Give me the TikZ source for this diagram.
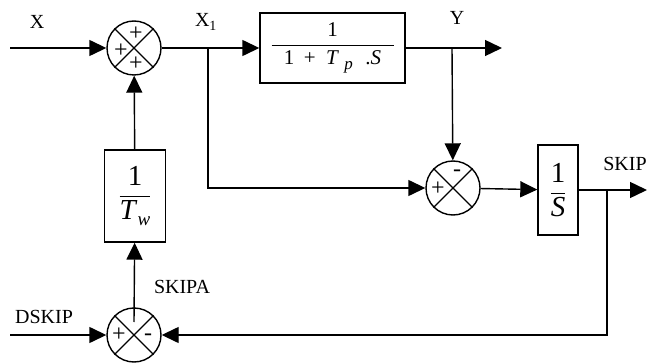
\documentclass[tikz,border=0pt]{standalone}
\usepackage{fontspec}
\setmainfont{Liberation Serif}
\usetikzlibrary{arrows.meta,calc}
\begin{document}
\begin{tikzpicture}[x=1pt,y=-1pt,line width=1.4pt,
  sumnode/.style={circle,draw,minimum size=54pt,inner sep=0pt},
  blk/.style={rectangle,draw,inner sep=0pt},
  arr/.style={-{Triangle[length=17pt,width=16pt]}},
  lbl/.style={font=\fontsize{20}{23}\selectfont,inner sep=0pt},
  sgn/.style={font=\fontsize{24}{26}\selectfont,inner sep=0pt}]
\useasboundingbox (0,0) rectangle (647,363);
% summing junctions
\node[sumnode] (s1) at (134,48) {};
\node[sumnode] (s2) at (453,188) {};
\node[sumnode] (s3) at (134,335) {};
\foreach \s in {s1,s2,s3}{
  \draw[line width=1.2pt] (\s.45) -- (\s.225) (\s.135) -- (\s.-45);
}
% blocks
\node[blk,minimum width=145pt,minimum height=70pt] (b1) at (332.5,48)
  {\fontsize{21}{24}\selectfont$\displaystyle\frac{\mbox{1}}{\makebox[122pt]{1\hspace{0.45em}+\hspace{0.5em}\textit{T}\hspace{0.25em}\raisebox{-5pt}{\textit{\fontsize{17}{19}\selectfont p}}\hspace{0.6em}.\textit{S}}}$};
\node[blk,minimum width=61pt,minimum height=92pt] (b2) at (135,196)
  {\fontsize{29}{33}\selectfont$\displaystyle\frac{\mbox{1}}{\mbox{\textit{T}\raisebox{-6pt}{\fontsize{19}{21}\selectfont\textit{w}}}}$};
\node[blk,minimum width=40pt,minimum height=90pt] (b3) at (558,190)
  {\fontsize{29}{33}\selectfont$\displaystyle\frac{\mbox{1}}{\mbox{\textit{S}}}$};
% connector points
\coordinate (xin) at (10,48);
\coordinate (x1) at (208,48);
\coordinate (yb) at (452,48);
\coordinate (yout) at (502,48);
\coordinate (skb) at (607,190);
\coordinate (skout) at (647,190);
\coordinate (din) at (10,335);
% connectors
\draw[arr] (xin) -- (s1);
\draw[arr] (s1) -- (b1);
\draw[arr] (b1) -- (yout);
\draw[arr] (yb) -- (s2);
\draw[arr] (x1) |- (s2);
\draw[arr] (s2) -- (b3);
\draw[arr] (b3) -- (skout);
\draw[arr] (skb) |- (s3);
\draw[arr] (din) -- (s3);
\draw[arr] ([yshift=13pt]s3.center) -- (b2);
\draw[arr] (b2) -- (s1);
% signs
\node[sgn] (p1) at ($(s1)+(2,-14)$) {+};
\node[sgn] (p2) at ($(s1)+(-13,3)$) {+};
\node[sgn] (p3) at ($(s1)+(2,16)$) {+};
\node[sgn] (p4) at ($(s2)+(-15,1)$) {+};
\node[sgn] (m1) at ($(s2)+(4,-15)$) {-};
\node[sgn] (p5) at ($(s3)+(-15,0)$) {+};
\node[sgn] (m2) at ($(s3)+(14,2)$) {-};
% labels
\node[lbl] (lx) at (37,22) {X};
\node[lbl] (lx1) at (206,22) {X\textsubscript{1}};
\node[lbl] (ly) at (457,18) {Y};
\node[lbl] (lsk) at (625,164) {SKIP};
\node[lbl] (lska) at (182,287) {SKIPA};
\node[lbl] (ldsk) at (44,317) {DSKIP};
\end{tikzpicture}
\end{document}
